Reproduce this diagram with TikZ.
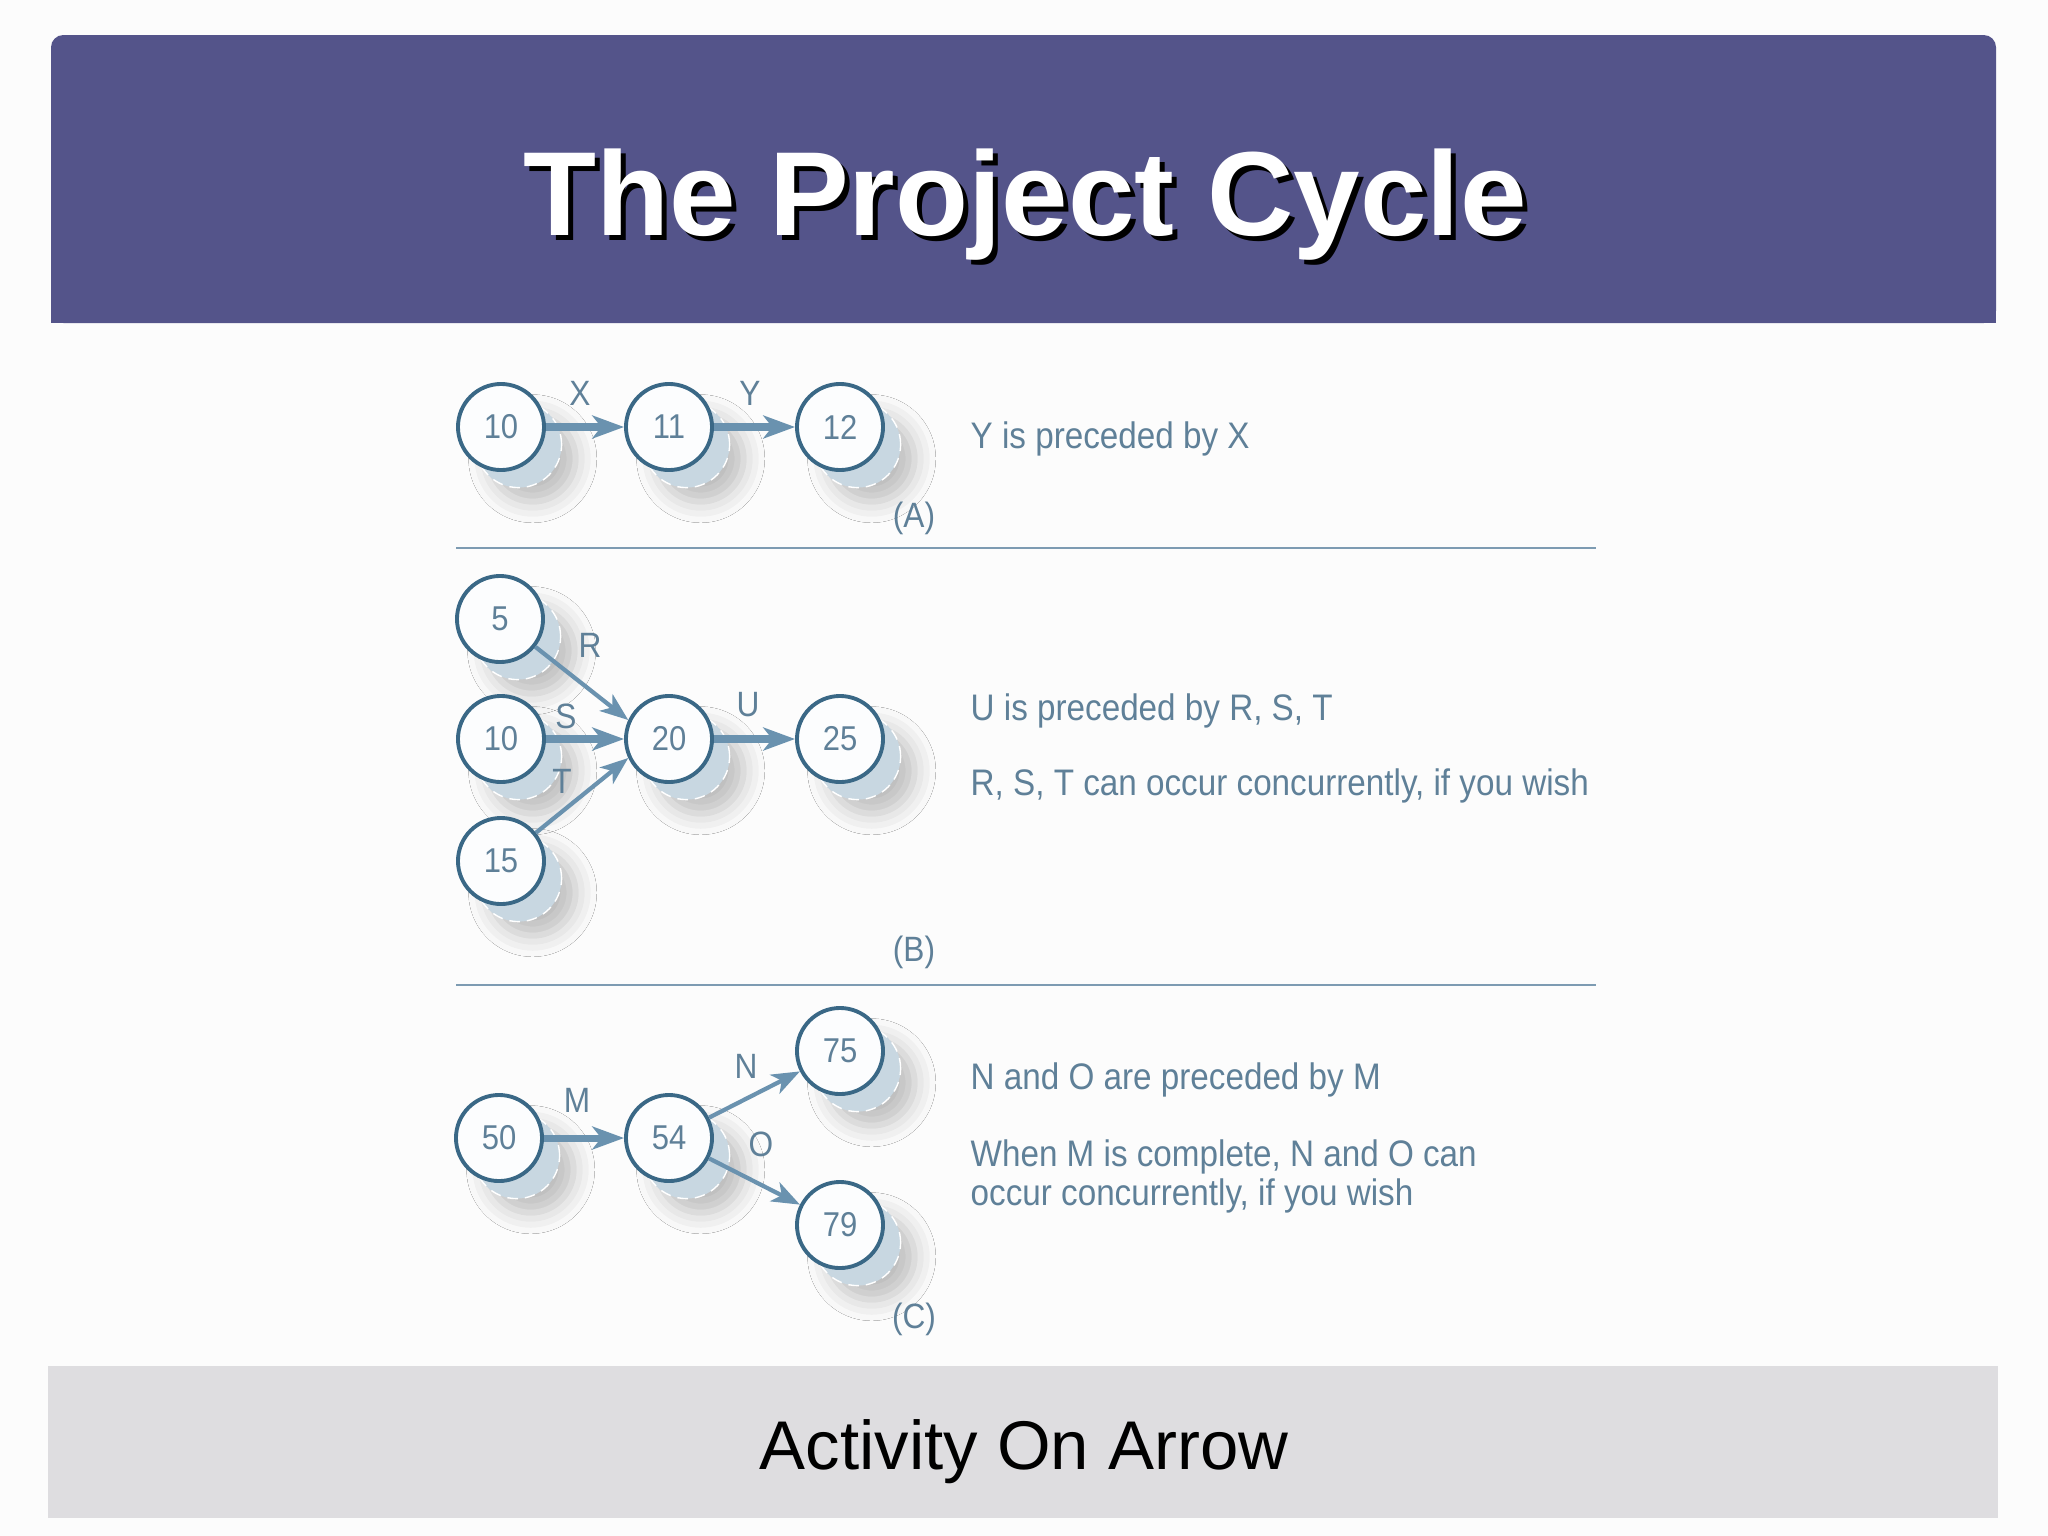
\documentclass[tikz,border=0pt]{standalone}
\usepackage{fontspec}
\setmainfont{Liberation Sans}
\newfontfamily\narrowfont[FakeStretch=0.9]{Liberation Sans}
\usetikzlibrary{arrows.meta,shadows,shadows.blur}

\definecolor{headband}{RGB}{84,84,138}
\definecolor{footband}{RGB}{222,221,224}
\definecolor{ringblue}{RGB}{58,104,134}
\definecolor{shadeblue}{RGB}{200,215,225}
\definecolor{arrowblue}{RGB}{106,146,175}
\definecolor{inkblue}{RGB}{95,128,152}
\definecolor{ruleblue}{RGB}{125,155,178}

\begin{document}
\begin{tikzpicture}[x=0.01cm, y=-0.01cm,
  event/.style={circle, draw=ringblue, line width=1.1pt, fill=white!95!shadeblue,
    minimum size=0.86cm, inner sep=0pt, text=inkblue,
    font=\narrowfont\fontsize{9.8}{10}\selectfont,
    blur shadow={shadow xshift=9pt, shadow yshift=-9pt, shadow blur radius=6pt, shadow opacity=25},
    copy shadow={shadow xshift=5pt, shadow yshift=-5pt, fill=shadeblue, draw=white, densely dashed, line width=0.4pt}},
  actlabel/.style={text=inkblue, font=\narrowfont\fontsize{10}{12}\selectfont},
  note/.style={anchor=base west, inner sep=0pt, text=inkblue, font=\narrowfont\fontsize{10.5}{11}\selectfont},
  heavyarrow/.style={draw=arrowblue, line width=2pt, -{Stealth[length=9pt,width=6.5pt,inset=2.5pt]}},
  lightarrow/.style={draw=arrowblue, line width=1.2pt, -{Stealth[length=8pt,width=6pt,inset=2.2pt]}}]
\useasboundingbox (0,0) rectangle (2048,1536);

% Background, title band and footer band
\fill[white!98!gray] (0,0) rectangle (2048,1536);
\fill[headband, rounded corners=3.5pt] (51,35) rectangle (1996,323);
\fill[headband] (51,150) rectangle (1996,323);
\fill[footband] (48,1366) rectangle (1998,1518);
\node[anchor=base, text=black, font=\bfseries\fontsize{34}{36}\selectfont] (titleshade) at (1030,240) {The Project Cycle};
\node[anchor=base, text=white, font=\bfseries\fontsize{34}{36}\selectfont] (title) at (1025,235) {The Project Cycle};
\node[anchor=base, text=black, font=\fontsize{19.6}{24}\selectfont] (footer) at (1024,1469) {Activity On Arrow};

% Part (A)
\node[event] (a10) at (501,427) {10};
\node[event] (a11) at (669,427) {11};
\node[event] (a12) at (840,427) {12};
\draw[heavyarrow] (a10) -- (a11);
\draw[heavyarrow] (a11) -- (a12);
\node[actlabel] (lblX) at (580,393) {X};
\node[actlabel] (lblY) at (750,393) {Y};
\node[actlabel] (partA) at (914,518) {(A)};
\node[note] (noteA) at (970,448) {Y is preceded by X};
\draw[ruleblue, line width=0.7pt] (456,548) -- (1596,548);

% Part (B)
\node[event] (b5) at (500,619) {5};
\node[event] (b10) at (501,739) {10};
\node[event] (b15) at (501,861) {15};
\node[event] (b20) at (669,739) {20};
\node[event] (b25) at (840,739) {25};
\draw[lightarrow] (b5) -- (b20.155);
\draw[heavyarrow] (b10) -- (b20);
\draw[lightarrow] (b15) -- (b20.205);
\draw[heavyarrow] (b20) -- (b25);
\node[actlabel] (lblR) at (590,645) {R};
\node[actlabel] (lblS) at (566,716) {S};
\node[actlabel] (lblT) at (562,781) {T};
\node[actlabel] (lblU) at (748,705) {U};
\node[actlabel] (partB) at (914,952) {(B)};
\node[note] (noteB1) at (970,720) {U is preceded by R, S, T};
\node[note] (noteB2) at (970,795) {R, S, T can occur concurrently, if you wish};
\draw[ruleblue, line width=0.7pt] (456,985) -- (1596,985);

% Part (C)
\node[event] (c50) at (499,1138) {50};
\node[event] (c54) at (669,1138) {54};
\node[event] (c75) at (840,1051) {75};
\node[event] (c79) at (840,1225) {79};
\draw[heavyarrow] (c50) -- (c54);
\draw[lightarrow] (c54) -- (c75);
\draw[lightarrow] (c54) -- (c79);
\node[actlabel] (lblM) at (577,1100) {M};
\node[actlabel] (lblN) at (746,1066) {N};
\node[actlabel] (lblO) at (761,1144) {O};
\node[actlabel] (partC) at (914,1319) {(C)};
\node[note] (noteC1) at (970,1089) {N and O are preceded by M};
\node[note, anchor=north west, align=left] (noteC2) at (970,1139) {When M is complete, N and O can\\occur concurrently, if you wish};
\end{tikzpicture}
\end{document}
